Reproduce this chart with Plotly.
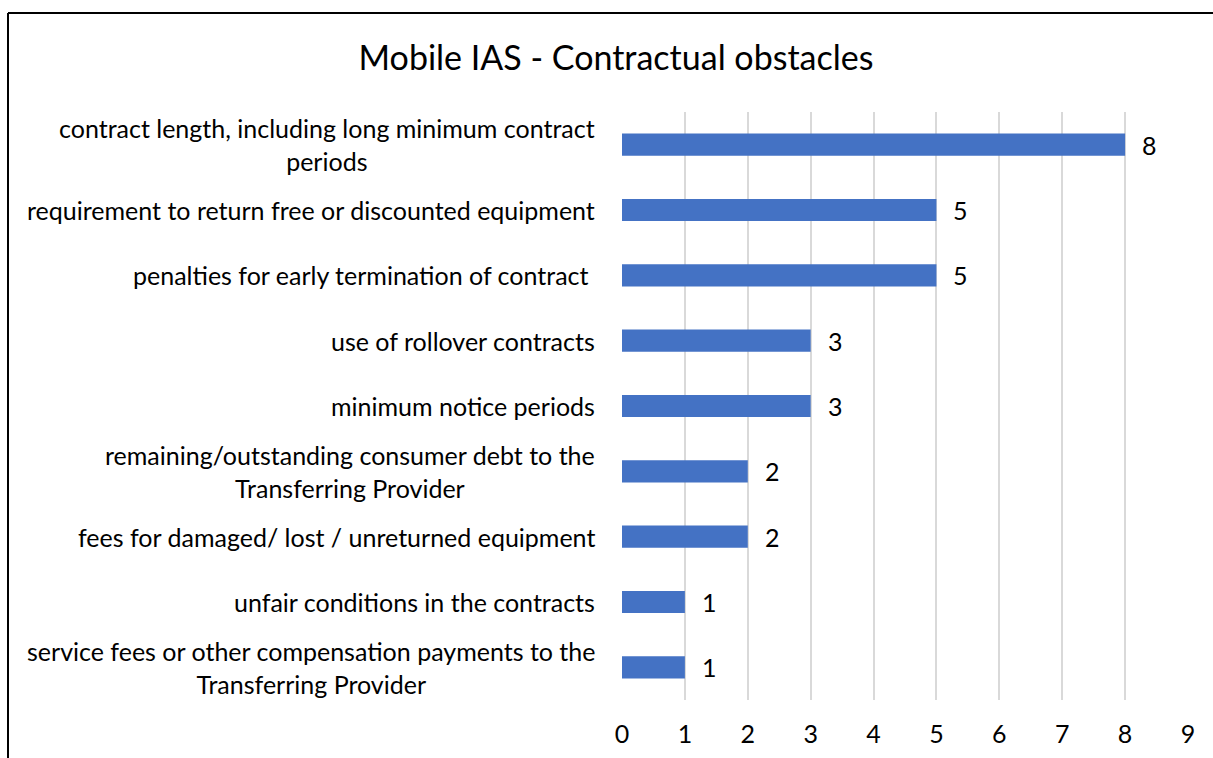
import plotly.graph_objects as go

categories = [
    "contract length, including long minimum contract<br>periods",
    "requirement to return free or discounted equipment",
    "penalties for early termination of contract ",
    "use of rollover contracts",
    "minimum notice periods",
    "remaining/outstanding consumer debt to the<br>Transferring Provider",
    "fees for damaged/ lost / unreturned equipment",
    "unfair conditions in the contracts",
    "service fees or other compensation payments to the<br>Transferring Provider",
]
values = [8, 5, 5, 3, 3, 2, 2, 1, 1]
x_ticks = [0, 1, 2, 3, 4, 5, 6, 7, 8, 9]
title_text = "Mobile IAS - Contractual obstacles"

FONT = "Lato"
LABEL_SIZE = 25
BAR_COLOR = "#4472C4"

ids = list(range(len(categories)))

fig = go.Figure()
fig.add_trace(go.Bar(
    x=values, y=ids, orientation="h",
    marker=dict(color=BAR_COLOR, line=dict(width=0)),
    width=0.34, hoverinfo="skip",
))

annotations = []
for i, (c, v) in enumerate(zip(categories, values)):
    annotations.append(dict(
        x=0, y=i, xref="x", yref="y", text=c, showarrow=False,
        xanchor="right", yanchor="middle", align="center", xshift=-25,
        font=dict(family=FONT, size=LABEL_SIZE, color="#000000"),
    ))
    annotations.append(dict(
        x=v, y=i, xref="x", yref="y", text=str(v), showarrow=False,
        xanchor="left", yanchor="middle", xshift=15,
        font=dict(family=FONT, size=LABEL_SIZE, color="#000000"),
    ))

fig.update_layout(
    width=1213, height=758,
    margin=dict(l=622, r=25, t=112, b=58),
    paper_bgcolor="white", plot_bgcolor="white",
    showlegend=False,
    title=dict(text=title_text, x=616/1213, xanchor="center", y=1-58/758, yanchor="middle",
               font=dict(family=FONT, size=34, color="#000000")),
    xaxis=dict(range=[0, 9], tickvals=x_ticks, showgrid=True, gridcolor="#d9d9d9", gridwidth=1.5,
               zeroline=False, showline=False, ticks="", automargin=False,
               ticklabelstandoff=17,
               tickfont=dict(family=FONT, size=LABEL_SIZE, color="#000000")),
    yaxis=dict(range=[len(categories) - 0.5, -0.5], showticklabels=False, showgrid=False,
               zeroline=False, showline=False, automargin=False),
    annotations=annotations,
    shapes=[
        dict(type="line", xref="paper", yref="paper", x0=(8-622)/566, x1=(1213-622)/566,
             y0=1+(112-13)/588, y1=1+(112-13)/588, line=dict(color="black", width=2)),
        dict(type="line", xref="paper", yref="paper", x0=(8-622)/566, x1=(8-622)/566,
             y0=1+(112-13)/588, y1=-58/588, line=dict(color="black", width=2)),
    ],
)

fig.write_html("out.html", config={"displayModeBar": False},
               post_script="document.body.style.margin='0px';document.body.style.overflow='hidden';")
